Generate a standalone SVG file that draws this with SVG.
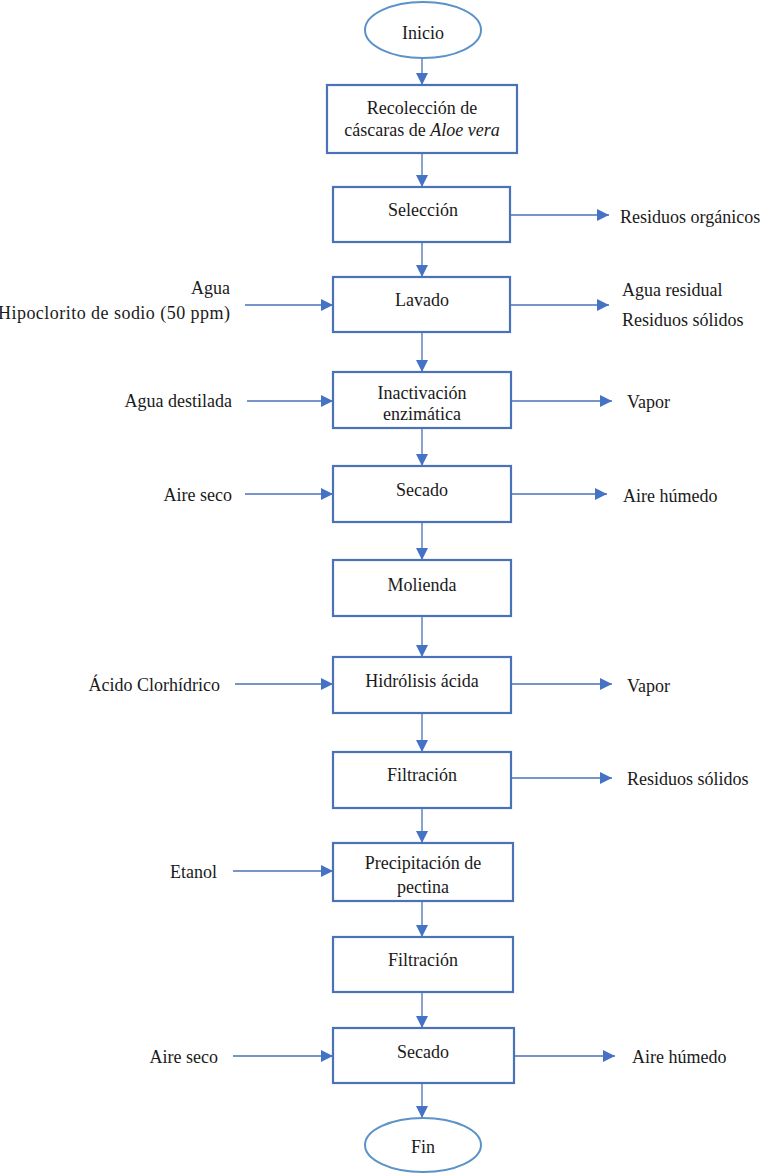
<svg xmlns="http://www.w3.org/2000/svg" width="764" height="1174" viewBox="0 0 764 1174">
<defs>
<marker id="arr" viewBox="0 0 10 10" refX="10" refY="5" markerWidth="12" markerHeight="12" markerUnits="userSpaceOnUse" orient="auto">
<path d="M0,0 L10,5 L0,10 Z" fill="#4472C4"/>
</marker>
</defs>
<style>
text{font-family:'Liberation Serif','Times New Roman','DejaVu Serif',serif;font-size:18px;fill:#1a1a1a}
.c{text-anchor:middle}
.e{text-anchor:end}
.box{fill:#fff;stroke:#4a72b8;stroke-width:2.2}
.ell{fill:#fff;stroke:#5b92c8;stroke-width:2}
.ln{stroke:#4a72b8;stroke-width:1.3;fill:none;marker-end:url(#arr)}
</style>
<rect width="764" height="1174" fill="#fff"/>
<g id="connectors">
<line class="ln" x1="422" y1="58" x2="422" y2="85"/>
<line class="ln" x1="422" y1="153" x2="422" y2="187"/>
<line class="ln" x1="422" y1="242" x2="422" y2="277"/>
<line class="ln" x1="422" y1="332" x2="422" y2="372"/>
<line class="ln" x1="422" y1="428" x2="422" y2="466"/>
<line class="ln" x1="422" y1="522" x2="422" y2="560"/>
<line class="ln" x1="422" y1="616" x2="422" y2="657"/>
<line class="ln" x1="422" y1="713" x2="422" y2="752"/>
<line class="ln" x1="422" y1="808" x2="422" y2="843"/>
<line class="ln" x1="422" y1="901" x2="422" y2="937"/>
<line class="ln" x1="422" y1="992" x2="422" y2="1028"/>
<line class="ln" x1="422" y1="1083" x2="422" y2="1118"/>
<line class="ln" x1="510" y1="215" x2="609" y2="215"/>
<line class="ln" x1="245" y1="305" x2="333" y2="305"/>
<line class="ln" x1="510" y1="305" x2="609" y2="305"/>
<line class="ln" x1="247" y1="401" x2="333" y2="401"/>
<line class="ln" x1="511" y1="401" x2="612" y2="401"/>
<line class="ln" x1="245" y1="494" x2="333" y2="494"/>
<line class="ln" x1="511" y1="494" x2="607" y2="494"/>
<line class="ln" x1="235" y1="684" x2="333" y2="684"/>
<line class="ln" x1="511" y1="684" x2="612" y2="684"/>
<line class="ln" x1="511" y1="778" x2="612" y2="778"/>
<line class="ln" x1="233" y1="871" x2="333" y2="871"/>
<line class="ln" x1="233" y1="1056" x2="333" y2="1056"/>
<line class="ln" x1="514" y1="1056" x2="615" y2="1056"/>
</g>
<g id="inicio"><ellipse class="ell" cx="423" cy="30" rx="58" ry="28"/><text class="c" x="423" y="39">Inicio</text></g>
<g id="recoleccion"><rect class="box" x="327" y="85" width="190" height="68"/><text class="c" x="422" y="114">Recolección de</text><text class="c" x="422" y="136">cáscaras de <tspan font-style="italic">Aloe vera</tspan></text></g>
<g id="seleccion"><rect class="box" x="333" y="187" width="177" height="55"/><text class="c" x="423" y="216">Selección</text></g>
<g id="lavado"><rect class="box" x="333" y="277" width="177" height="55"/><text class="c" x="422" y="306">Lavado</text></g>
<g id="inactivacion"><rect class="box" x="333" y="372" width="178" height="56"/><text class="c" x="422" y="399">Inactivación</text><text class="c" x="422" y="420">enzimática</text></g>
<g id="secado1"><rect class="box" x="333" y="466" width="178" height="56"/><text class="c" x="422" y="496">Secado</text></g>
<g id="molienda"><rect class="box" x="333" y="560" width="178" height="56"/><text class="c" x="422" y="591">Molienda</text></g>
<g id="hidrolisis"><rect class="box" x="333" y="657" width="178" height="56"/><text class="c" x="422" y="687">Hidrólisis ácida</text></g>
<g id="filtracion1"><rect class="box" x="333" y="752" width="178" height="56"/><text class="c" x="422" y="781">Filtración</text></g>
<g id="precipitacion"><rect class="box" x="333" y="843" width="180" height="58"/><text class="c" x="423" y="869">Precipitación de</text><text class="c" x="423" y="893">pectina</text></g>
<g id="filtracion2"><rect class="box" x="333" y="937" width="180" height="55"/><text class="c" x="423" y="966">Filtración</text></g>
<g id="secado2"><rect class="box" x="333" y="1028" width="181" height="55"/><text class="c" x="423" y="1058">Secado</text></g>
<g id="fin"><ellipse class="ell" cx="423" cy="1145" rx="58" ry="27"/><text class="c" x="423" y="1153">Fin</text></g>
<g id="labels">
<text x="620" y="223">Residuos orgánicos</text>
<text class="e" x="230" y="294">Agua</text>
<text x="-2" y="319" textLength="232" lengthAdjust="spacing">Hipoclorito de sodio (50 ppm)</text>
<text x="622" y="296">Agua residual</text>
<text x="622" y="326">Residuos sólidos</text>
<text class="e" x="232" y="407">Agua destilada</text>
<text x="627" y="408">Vapor</text>
<text class="e" x="232" y="501">Aire seco</text>
<text x="623" y="502">Aire húmedo</text>
<text class="e" x="220" y="691">Ácido Clorhídrico</text>
<text x="627" y="692">Vapor</text>
<text x="627" y="785">Residuos sólidos</text>
<text class="e" x="217" y="878">Etanol</text>
<text class="e" x="218" y="1063">Aire seco</text>
<text x="632" y="1063">Aire húmedo</text>
</g>
</svg>
